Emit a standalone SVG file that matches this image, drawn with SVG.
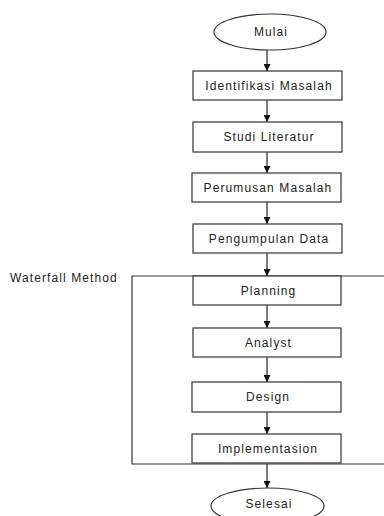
<svg xmlns="http://www.w3.org/2000/svg" width="384" height="516" viewBox="0 0 384 516">
<style>
.box{fill:#fff;stroke:#333;stroke-width:1.2}
.t{font-family:"Liberation Sans",Arial,sans-serif;font-size:12px;letter-spacing:1.1px;fill:#222;text-anchor:middle;dominant-baseline:central}
.c{fill:none;stroke:#333;stroke-width:1.3}
</style>
<defs>
<marker id="ah" viewBox="0 0 10 10" refX="10" refY="5" markerWidth="7" markerHeight="7" markerUnits="userSpaceOnUse" orient="auto">
<path d="M0,0 L10,5 L0,10 Z" fill="#111"/>
</marker>
</defs>
<rect width="384" height="516" fill="#fff"/>
<g id="waterfall">
<path d="M384,276 H132 V464 H384" fill="none" stroke="#333" stroke-width="1.2"/>
<text x="10" y="278" style="font-family:'Liberation Sans',Arial,sans-serif;font-size:12px;letter-spacing:1.1px;fill:#222;dominant-baseline:central">Waterfall Method</text>
</g>
<g id="connectors">
<line class="c" x1="267" y1="50" x2="267" y2="71" marker-end="url(#ah)"/>
<line class="c" x1="267" y1="100" x2="267" y2="122" marker-end="url(#ah)"/>
<line class="c" x1="267" y1="152" x2="267" y2="173" marker-end="url(#ah)"/>
<line class="c" x1="267" y1="202" x2="267" y2="224" marker-end="url(#ah)"/>
<line class="c" x1="267" y1="253" x2="267" y2="276" marker-end="url(#ah)"/>
<line class="c" x1="267" y1="305" x2="267" y2="328" marker-end="url(#ah)"/>
<line class="c" x1="267" y1="357" x2="267" y2="382" marker-end="url(#ah)"/>
<line class="c" x1="267" y1="412" x2="267" y2="434" marker-end="url(#ah)"/>
<line class="c" x1="267" y1="464" x2="267" y2="488" marker-end="url(#ah)"/>
</g>
<g id="mulai"><ellipse class="box" cx="270" cy="32" rx="56" ry="18"/><text class="t" x="271" y="32">Mulai</text></g>
<g id="identifikasi"><rect class="box" x="193" y="71" width="149" height="29"/><text class="t" x="269" y="85.5">Identifikasi Masalah</text></g>
<g id="studi"><rect class="box" x="193" y="122" width="149" height="30"/><text class="t" x="269" y="137">Studi Literatur</text></g>
<g id="perumusan"><rect class="box" x="192" y="173" width="149" height="29"/><text class="t" x="268" y="187.5">Perumusan Masalah</text></g>
<g id="pengumpulan"><rect class="box" x="193" y="224" width="149" height="29"/><text class="t" x="269" y="238.5">Pengumpulan Data</text></g>
<g id="planning"><rect class="box" x="193" y="276" width="148" height="29"/><text class="t" x="268.5" y="290.5">Planning</text></g>
<g id="analyst"><rect class="box" x="193" y="328" width="148" height="29"/><text class="t" x="268.5" y="342.5">Analyst</text></g>
<g id="design"><rect class="box" x="192" y="382" width="149" height="30"/><text class="t" x="268" y="397">Design</text></g>
<g id="implementasion"><rect class="box" x="192" y="434" width="149" height="29"/><text class="t" x="268" y="448.5">Implementasion</text></g>
<g id="selesai"><ellipse class="box" cx="267.5" cy="506" rx="56.5" ry="18"/><text class="t" x="269" y="504">Selesai</text></g>
</svg>
